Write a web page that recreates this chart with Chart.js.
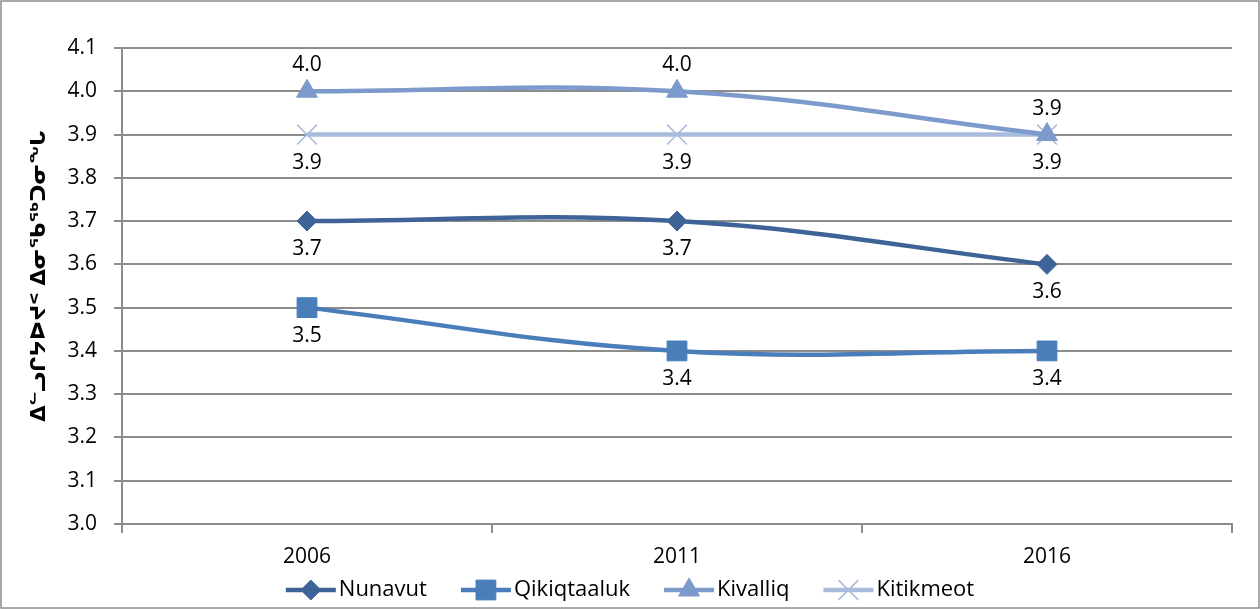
<!DOCTYPE html>
<html lang="iu">
<head>
<meta charset="UTF-8">
<title>Household size</title>
<script src="https://cdn.jsdelivr.net/npm/chart.js@4.4.1/dist/chart.umd.min.js"></script>
<style>
html,body{margin:0;padding:0;background:#fff}
#wrap{width:1260px;height:609px}
</style>
</head>
<body>
<div id="wrap"><canvas id="chartSize"></canvas></div>
<script>
// values
var years = ["2006", "2011", "2016"];
var nunavut = [3.7, 3.7, 3.6];
var qikiqtaaluk = [3.5, 3.4, 3.4];
var kivalliq = [4.0, 4.0, 3.9];
var kitikmeot = [3.9, 3.9, 3.9];
var yTitle = "ᐃᓪᓗᒋᔭᐅᔪᑉ ᐃᓂᖃᖅᑐᓂᖓ";

var txtFont = "'Open Sans', 'Noto Sans', sans-serif";
var gridGray = "#8c8c8c";

// draws the value next to each point
var valueLabels = {
  id: "valueLabels",
  afterDatasetsDraw: function(chart) {
    var ctx = chart.ctx;
    ctx.save();
    ctx.font = "21px " + txtFont;
    ctx.fillStyle = "#000";
    ctx.textAlign = "center";
    ctx.textBaseline = "middle";
    chart.data.datasets.forEach(function(ds, i) {
      var meta = chart.getDatasetMeta(i);
      meta.data.forEach(function(pt, j) {
        var dy = ds.labelPos == "above" ? -26 : 28;
        ctx.fillText(ds.data[j].toFixed(1), pt.x, pt.y + dy);
      });
    });
    ctx.restore();
  }
};

// frame, axis title and legend with line + marker
var extras = {
  id: "extras",
  beforeDraw: function(chart) {
    var ctx = chart.ctx;
    ctx.save();
    ctx.fillStyle = "#fff";
    ctx.fillRect(0, 0, chart.width, chart.height);
    ctx.strokeStyle = gridGray;
    ctx.lineWidth = 1.5;
    ctx.strokeRect(1, 1, chart.width - 2, chart.height - 2);
    ctx.restore();
  },
  afterDraw: function(chart) {
    var ctx = chart.ctx;
    ctx.save();
    // y title
    ctx.translate(40, 276);
    ctx.rotate(-Math.PI / 2);
    ctx.font = "bold 21px 'DejaVu Sans'";
    ctx.fillStyle = "#000";
    ctx.textAlign = "center";
    ctx.textBaseline = "middle";
    ctx.fillText(yTitle, 0, 0);
    ctx.restore();

    // legend
    ctx.save();
    ctx.font = "22px " + txtFont;
    var sets = chart.data.datasets;
    var lineW = 50, gap = 3, space = 34;
    var total = 0;
    sets.forEach(function(ds, i) {
      total += lineW + gap + ctx.measureText(ds.label).width;
      if (i < sets.length - 1) total += space;
    });
    var x = chart.width / 2 - total / 2;
    var y = 590;
    sets.forEach(function(ds) {
      ctx.strokeStyle = ds.borderColor;
      ctx.lineWidth = ds.borderWidth;
      ctx.beginPath();
      ctx.moveTo(x, y);
      ctx.lineTo(x + lineW, y);
      ctx.stroke();
      ctx.fillStyle = ds.pointBackgroundColor;
      ctx.strokeStyle = ds.pointBorderColor;
      ctx.lineWidth = ds.pointBorderWidth;
      Chart.helpers.drawPoint(ctx, {pointStyle: ds.pointStyle, radius: ds.pointRadius, borderWidth: ds.pointBorderWidth, rotation: 0}, x + lineW / 2, y);
      ctx.fillStyle = "#000";
      ctx.textAlign = "left";
      ctx.textBaseline = "middle";
      ctx.fillText(ds.label, x + lineW + gap, y);
      x += lineW + gap + ctx.measureText(ds.label).width + space;
    });
    ctx.restore();
  }
};

function series(label, data, color, style, radius, pos) {
  return {
    label: label,
    data: data,
    borderColor: color,
    backgroundColor: color,
    borderWidth: 4.5,
    tension: 0.4,
    pointStyle: style,
    pointRadius: radius,
    pointHoverRadius: radius,
    pointBackgroundColor: color,
    pointBorderColor: color,
    pointBorderWidth: style == "crossRot" ? 1.5 : 1,
    labelPos: pos
  };
}

new Chart("chartSize", {
  type: "line",
  data: {
    labels: years,
    datasets: [
      series("Nunavut", nunavut, "#3E6497", "rectRot", 10, "below"),
      series("Qikiqtaaluk", qikiqtaaluk, "#4A7EBB", "rect", 14, "below"),
      series("Kivalliq", kivalliq, "#7D9ACC", "triangle", 12, "above"),
      series("Kitikmeot", kitikmeot, "#A8BCDD", "crossRot", 14, "below")
    ]
  },
  options: {
    responsive: true,
    maintainAspectRatio: false,
    animation: false,
    layout: { padding: { top: 48, right: 28, bottom: 35, left: 0 } },
    plugins: { legend: { display: false }, tooltip: { enabled: false } },
    scales: {
      x: {
        offset: true,
        grid: { offset: true, drawOnChartArea: false, tickLength: 9, color: gridGray, lineWidth: 2 },
        border: { display: true, color: gridGray, width: 2 },
        ticks: { color: "#000", font: { family: txtFont, size: 21 }, padding: 11 },
        afterFit: function(s) { s.height = 50; }
      },
      y: {
        min: 3.0,
        max: 4.1,
        ticks: {
          stepSize: 0.1,
          color: "#000",
          font: { family: txtFont, size: 21 },
          padding: 17,
          callback: function(v) { return v.toFixed(1); }
        },
        grid: { color: gridGray, lineWidth: 2, tickLength: 8 },
        border: { display: true, color: gridGray, width: 2 },
        afterFit: function(s) { s.width = 122; }
      }
    }
  },
  plugins: [extras, valueLabels]
});
</script>
</body>
</html>
